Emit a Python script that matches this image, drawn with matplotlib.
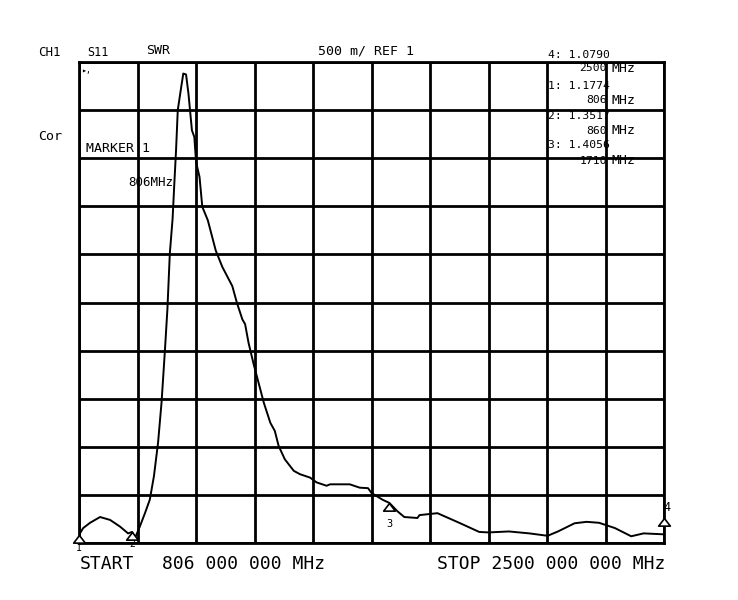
import numpy as np
import matplotlib.pyplot as plt
from matplotlib.path import Path
from matplotlib.transforms import offset_copy

# SWR trace (S11, 806-2500 MHz)
freq_mhz = [806, 818, 838, 867, 896, 925, 948, 960, 968, 982, 997, 1011,
            1023, 1035, 1045, 1050, 1055, 1062, 1069, 1077, 1082, 1087, 1092,
            1102, 1108, 1116, 1123, 1128, 1133, 1140, 1145, 1155, 1163, 1179,
            1202, 1221, 1250, 1263, 1279, 1287, 1297, 1312, 1326, 1341, 1360,
            1373, 1384, 1402, 1428, 1446, 1475, 1494, 1523, 1533, 1590, 1619,
            1643, 1653, 1685, 1705, 1728, 1748, 1786, 1792, 1844, 1907, 1965,
            1992, 2051, 2110, 2163, 2193, 2241, 2276, 2312, 2358, 2405, 2441,
            2500]
swr = [1.083, 1.155, 1.21, 1.27, 1.24, 1.17, 1.10, 1.115, 1.05, 1.17, 1.31,
       1.45, 1.695, 2.045, 2.46, 2.735, 3.015, 3.43, 4.01, 4.37, 4.735, 5.08,
       5.50, 5.74, 5.88, 5.87, 5.67, 5.48, 5.29, 5.22, 4.96, 4.805, 4.495,
       4.355, 4.04, 3.87, 3.67, 3.50, 3.325, 3.275, 3.08, 2.855, 2.665, 2.46,
       2.25, 2.165, 2.01, 1.87, 1.75, 1.715, 1.68, 1.63, 1.595, 1.61, 1.61,
       1.575, 1.57, 1.52, 1.45, 1.416, 1.33, 1.27, 1.26, 1.29, 1.31, 1.21,
       1.115, 1.11, 1.12, 1.10, 1.075, 1.12, 1.205, 1.22, 1.21, 1.155, 1.07,
       1.10, 1.09]

marker_ids = ['1', '2', '3', '4']
marker_freq = [806, 960, 1705, 2500]
marker_vals = ['4: 1.0790', '1: 1.1774', '2: 1.3517', '3: 1.4056']
marker_mhz = ['2500', '806', '860', '1710']

start_mhz, stop_mhz = 806, 2500
ref, per_div = 1.0, 0.5

mono = 'DejaVu Sans Mono'
W, H = 738, 600


def put(x, y, s, size, ha='left'):
    # place screen text by pixel position (from top-left)
    fig.text(x / W, 1 - y / H, s, fontsize=size, family=mono, va='center',
             ha=ha)


fig = plt.figure(figsize=(7.38, 6), dpi=100)
ax = fig.add_axes([79 / W, 57 / H, 585 / W, 481 / H])
ax.set_xlim(start_mhz, stop_mhz)
ax.set_ylim(ref, ref + 10 * per_div)
ax.set_xticks(np.linspace(start_mhz, stop_mhz, 11))
ax.set_yticks(np.linspace(ref, ref + 10 * per_div, 11))
ax.tick_params(length=0, labelbottom=False, labelleft=False)
ax.grid(True, color='black', linewidth=2)
for s in ax.spines.values():
    s.set_linewidth(2)

ax.plot(freq_mhz, swr, color='black', linewidth=1.4, zorder=3)

# marker triangles with apex on the trace
tri = Path([(0, 0), (-0.65, -0.85), (0.65, -0.85), (0, 0)],
           [Path.MOVETO, Path.LINETO, Path.LINETO, Path.CLOSEPOLY])
mk_y = np.interp(marker_freq, freq_mhz, swr)
for m, f, y in zip(marker_ids, marker_freq, mk_y):
    if m == '4':
        # marker 4 sits on the right edge, lifted above the trace
        lift = offset_copy(ax.transData, fig=fig, y=12, units='points')
        ax.annotate('', (f, y), xytext=(0, 12), textcoords='offset points',
                    arrowprops=dict(arrowstyle='-', color='black', lw=1.2),
                    annotation_clip=False)
        ax.plot([f], [y], linestyle='none', marker=tri, markersize=11,
                markerfacecolor='white', markeredgecolor='black',
                markeredgewidth=1.2, clip_on=False, zorder=4, transform=lift)
        ax.annotate(m, (f, y), xytext=(2, 19), textcoords='offset points',
                    ha='center', va='center', fontsize=8.5, family=mono,
                    annotation_clip=False, zorder=5)
        continue
    ax.plot([f], [y], linestyle='none', marker=tri, markersize=11,
            markerfacecolor='white', markeredgecolor='black',
            markeredgewidth=1.2, clip_on=False, zorder=4)
    dy = -15 if m == '3' else -9
    ax.annotate(m, (f, y), xytext=(0, dy), textcoords='offset points',
                ha='center', va='center', fontsize=7.5 if m == '3' else 7,
                family=mono, annotation_clip=False)

# screen annotations
put(38, 52, 'CH1', 9)
put(87, 52, 'S11', 8.5)
put(146, 51, 'SWR', 9.5)
put(318, 51, '500 m/ REF 1', 9.5)
put(38, 137, 'Cor', 9.5)
put(86, 148, 'MARKER 1', 9.5)
put(128, 182, '806MHz', 9)
put(81, 71, '▸,', 6)

val_y = [55, 86, 116, 145]
mhz_y = [68, 100, 131, 161]
for v, mz, yv, ym in zip(marker_vals, marker_mhz, val_y, mhz_y):
    put(548, yv, v, 8.2)
    put(607, ym, mz, 8.2, ha='right')
    put(611, ym, 'MHz', 9.5)

put(80, 564, 'START', 13)
put(162, 564, '806 000 000 MHz', 13)
put(437, 564, 'STOP 2500 000 000 MHz', 13)

fig.savefig('out.png', dpi=100)
